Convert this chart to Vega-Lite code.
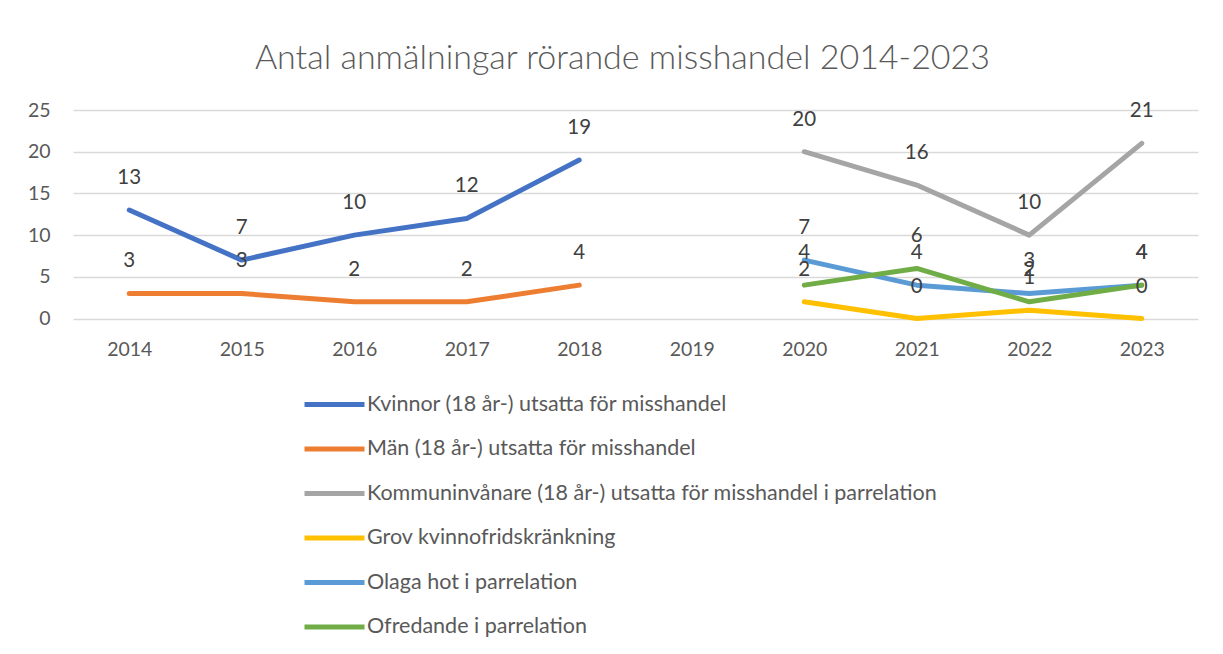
{
  "$schema": "https://vega.github.io/schema/vega-lite/v6.json",
  "width": 1125,
  "height": 208.5,
  "autosize": {"type": "none"},
  "padding": {"left": 73, "top": 110, "right": 25, "bottom": 335.5},
  "background": "white",
  "config": {"view": {"stroke": null}, "font": "Lato"},
  "title": {
    "text": "Antal anmälningar rörande misshandel 2014-2023",
    "font": "Lato",
    "fontSize": 34,
    "fontWeight": 300,
    "color": "#595959",
    "anchor": "middle",
    "dx": -13,
    "offset": 24
  },
  "data": {
    "values": [
      {"series": "Kvinnor (18 år-) utsatta för misshandel", "year": 2014, "value": 13},
      {"series": "Kvinnor (18 år-) utsatta för misshandel", "year": 2015, "value": 7},
      {"series": "Kvinnor (18 år-) utsatta för misshandel", "year": 2016, "value": 10},
      {"series": "Kvinnor (18 år-) utsatta för misshandel", "year": 2017, "value": 12},
      {"series": "Kvinnor (18 år-) utsatta för misshandel", "year": 2018, "value": 19},
      {"series": "Män (18 år-) utsatta för misshandel", "year": 2014, "value": 3},
      {"series": "Män (18 år-) utsatta för misshandel", "year": 2015, "value": 3},
      {"series": "Män (18 år-) utsatta för misshandel", "year": 2016, "value": 2},
      {"series": "Män (18 år-) utsatta för misshandel", "year": 2017, "value": 2},
      {"series": "Män (18 år-) utsatta för misshandel", "year": 2018, "value": 4},
      {"series": "Kommuninvånare (18 år-) utsatta för misshandel i parrelation", "year": 2020, "value": 20},
      {"series": "Kommuninvånare (18 år-) utsatta för misshandel i parrelation", "year": 2021, "value": 16},
      {"series": "Kommuninvånare (18 år-) utsatta för misshandel i parrelation", "year": 2022, "value": 10},
      {"series": "Kommuninvånare (18 år-) utsatta för misshandel i parrelation", "year": 2023, "value": 21},
      {"series": "Grov kvinnofridskränkning", "year": 2020, "value": 2},
      {"series": "Grov kvinnofridskränkning", "year": 2021, "value": 0},
      {"series": "Grov kvinnofridskränkning", "year": 2022, "value": 1},
      {"series": "Grov kvinnofridskränkning", "year": 2023, "value": 0},
      {"series": "Olaga hot i parrelation", "year": 2020, "value": 7},
      {"series": "Olaga hot i parrelation", "year": 2021, "value": 4},
      {"series": "Olaga hot i parrelation", "year": 2022, "value": 3},
      {"series": "Olaga hot i parrelation", "year": 2023, "value": 4},
      {"series": "Ofredande i parrelation", "year": 2020, "value": 4},
      {"series": "Ofredande i parrelation", "year": 2021, "value": 6},
      {"series": "Ofredande i parrelation", "year": 2022, "value": 2},
      {"series": "Ofredande i parrelation", "year": 2023, "value": 4}
    ]
  },
  "encoding": {
    "x": {
      "field": "year",
      "type": "ordinal",
      "scale": {"type": "point", "padding": 0.5, "domain": [2014, 2015, 2016, 2017, 2018, 2019, 2020, 2021, 2022, 2023]},
      "axis": {
        "title": null,
        "labelAngle": 0,
        "grid": false,
        "domain": false,
        "ticks": false,
        "labelPadding": 22,
        "labelFontSize": 19.5,
        "labelColor": "#595959",
        "labelFont": "Lato"
      }
    },
    "y": {
      "field": "value",
      "type": "quantitative",
      "scale": {"domain": [0, 25], "nice": false, "zero": true},
      "axis": {
        "title": null,
        "values": [0, 5, 10, 15, 20, 25],
        "grid": true,
        "gridColor": "#D9D9D9",
        "gridWidth": 1.3,
        "domain": false,
        "ticks": false,
        "labelPadding": 23,
        "labelFontSize": 19.5,
        "labelColor": "#595959",
        "labelFont": "Lato"
      }
    }
  },
  "layer": [
    {
      "mark": {"type": "line", "strokeWidth": 5, "strokeCap": "round", "strokeJoin": "round"},
      "encoding": {
        "color": {
          "field": "series",
          "type": "nominal",
          "scale": {
            "domain": [
              "Kvinnor (18 år-) utsatta för misshandel",
              "Män (18 år-) utsatta för misshandel",
              "Kommuninvånare (18 år-) utsatta för misshandel i parrelation",
              "Grov kvinnofridskränkning",
              "Olaga hot i parrelation",
              "Ofredande i parrelation"
            ],
            "range": ["#4472C4", "#ED7D31", "#A5A5A5", "#FFC000", "#5B9BD5", "#70AD47"]
          },
          "legend": {
            "title": null,
            "orient": "none",
            "direction": "vertical",
            "legendX": 229,
            "legendY": 282,
            "symbolType": "M-1,0H5",
            "symbolSize": 400,
            "symbolStrokeWidth": 5,
            "labelOffset": 40,
            "labelFontSize": 21.5,
            "labelColor": "#595959",
            "labelFont": "Lato",
            "labelLimit": 800,
            "rowPadding": 21.5
          }
        }
      }
    },
    {
      "mark": {"type": "text", "dy": -32, "fontSize": 20.5, "font": "Lato", "color": "#404040", "baseline": "middle"},
      "encoding": {
        "text": {"field": "value", "type": "quantitative"},
        "detail": {"field": "series", "type": "nominal"}
      }
    }
  ]
}
